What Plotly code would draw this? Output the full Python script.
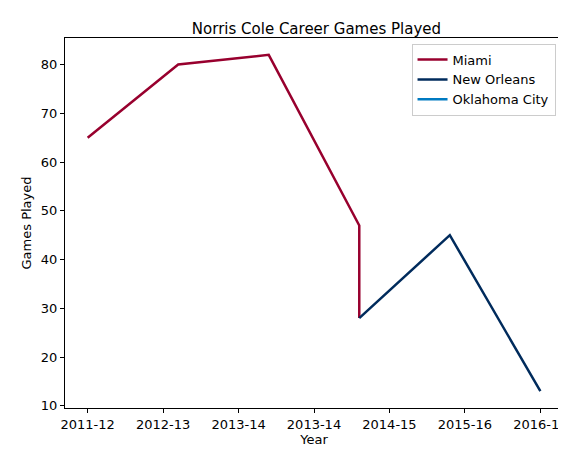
import plotly.graph_objects as go

tick_pos = [0, 1, 2, 3, 4, 5, 6]
tick_labels = ["2011-12", "2012-13", "2013-14", "2013-14", "2014-15", "2015-16", "2016-17"]

miami_x = [0, 1.2, 2.4, 3.6, 3.6]
miami_y = [65, 80, 82, 47, 28]
nola_x = [3.6, 4.8, 6.0]
nola_y = [28, 45, 13]
okc_x = [None]
okc_y = [None]

fig = go.Figure()
fig.add_trace(go.Scatter(x=miami_x, y=miami_y, mode="lines", name="Miami",
                         line=dict(color="#98002E", width=2.5)))
fig.add_trace(go.Scatter(x=nola_x, y=nola_y, mode="lines", name="New Orleans",
                         line=dict(color="#002B5C", width=2.5)))
fig.add_trace(go.Scatter(x=okc_x, y=okc_y, mode="lines", name="Oklahoma City",
                         line=dict(color="#007AC1", width=2.5), showlegend=True))

axis_style = dict(showgrid=False, zeroline=False, showline=True, mirror=True,
                  linecolor="black", linewidth=1, ticks="outside", ticklen=4,
                  tickcolor="black", tickfont=dict(size=13, color="black"),
                  automargin=False)

fig.update_layout(
    width=566, height=453,
    margin=dict(l=57, r=11, t=30, b=53),
    plot_bgcolor="white", paper_bgcolor="white",
    font=dict(family="DejaVu Sans", color="black"),
    title=dict(text="Norris Cole Career Games Played", x=0.545, xanchor="center",
               y=0.965, font=dict(size=15)),
    xaxis=dict(range=[-0.3, 6.3], tickvals=tick_pos, ticktext=tick_labels,
               title=dict(text="Year", font=dict(size=13), standoff=4), **axis_style),
    yaxis=dict(range=[9.55, 85.45], tickvals=[10, 20, 30, 40, 50, 60, 70, 80],
               title=dict(text="Games Played", font=dict(size=13), standoff=6), **axis_style),
    legend=dict(x=0.985, y=0.985, xanchor="right", yanchor="top",
                bordercolor="#cccccc", borderwidth=1, bgcolor="white",
                font=dict(size=13)),
)

fig.write_html("out.html")
